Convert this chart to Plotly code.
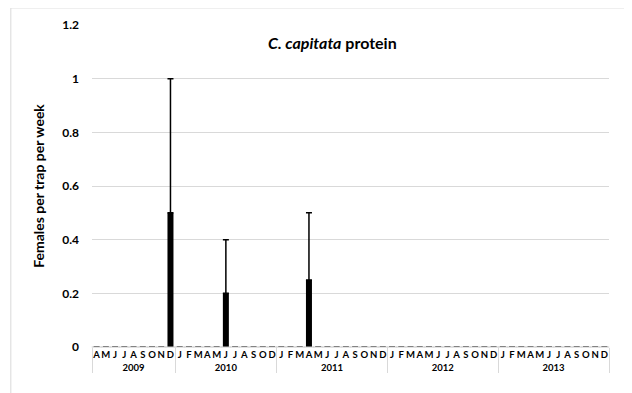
import plotly.graph_objects as go

# month letters per year (2010 has no November sample)
months_2009 = ["A", "M", "J", "J", "A", "S", "O", "N", "D"]
months_2010 = ["J", "F", "M", "A", "M", "J", "J", "A", "S", "O", "D"]
months_2011 = ["J", "F", "M", "A", "M", "J", "J", "A", "S", "O", "N", "D"]
months_2012 = ["J", "F", "M", "A", "M", "J", "J", "A", "S", "O", "N", "D"]
months_2013 = ["J", "F", "M", "A", "M", "J", "J", "A", "S", "O", "N", "D"]

# females per trap per week
values_2009 = [0, 0, 0, 0, 0, 0, 0, 0, 0.5]
values_2010 = [0, 0, 0, 0, 0, 0.2, 0, 0, 0, 0, 0]
values_2011 = [0, 0, 0, 0.25, 0, 0, 0, 0, 0, 0, 0, 0]
values_2012 = [0] * 12
values_2013 = [0] * 12

# upper error bars
errors_2009 = [0, 0, 0, 0, 0, 0, 0, 0, 0.5]
errors_2010 = [0, 0, 0, 0, 0, 0.2, 0, 0, 0, 0, 0]
errors_2011 = [0, 0, 0, 0.25, 0, 0, 0, 0, 0, 0, 0, 0]
errors_2012 = [0] * 12
errors_2013 = [0] * 12

years = ["2009", "2010", "2011", "2012", "2013"]
months = [months_2009, months_2010, months_2011, months_2012, months_2013]
values = [values_2009, values_2010, values_2011, values_2012, values_2013]
errors = [errors_2009, errors_2010, errors_2011, errors_2012, errors_2013]

x_year, x_month, y, err = [], [], [], []
i = 0
for yr, ms, vs, es in zip(years, months, values, errors):
    for m, v, e in zip(ms, vs, es):
        # every month letter gets its own invisible suffix so plotly keeps
        # them as separate categories in the original order
        x_year.append(yr)
        x_month.append(m + "\u200b" * i)
        y.append(v)
        err.append(e)
        i += 1

font = "Lato, 'Open Sans', sans-serif"

fig = go.Figure()
fig.add_trace(go.Bar(
    x=[x_year, x_month], y=y,
    marker=dict(color="black", line=dict(width=0)),
    error_y=dict(type="data", array=err, arrayminus=[0] * len(err),
                 symmetric=False, color="black", thickness=1.5, width=3),
    showlegend=False,
))
# dashed-looking category baseline
fig.add_trace(go.Scatter(
    x=[x_year, x_month], y=[0] * len(y), mode="markers",
    marker=dict(symbol="line-ew-open", size=7, color="#c8c8c8",
                line=dict(color="#c8c8c8", width=1)),
    showlegend=False, hoverinfo="skip", cliponaxis=False,
))

fig.update_layout(
    width=632, height=393,
    margin=dict(l=84, r=31, t=17, b=54),
    paper_bgcolor="white", plot_bgcolor="white",
    bargap=0.35,
    font=dict(family=font, color="black"),
    title=dict(text="<i>C. capitata</i> protein", xref="paper", x=0.465,
               xanchor="center", y=0.91, yanchor="middle",
               font=dict(family=font, size=16, weight="bold", color="black")),
    shapes=[dict(type="rect", xref="paper", yref="paper",
                 x0=-0.157, x1=1.035, y0=-0.2, y1=1.053,
                 line=dict(color="#d9d9d9", width=1), layer="below")],
)
fig.update_xaxes(
    type="multicategory", showgrid=False, zeroline=False, showline=False,
    range=[-0.5, len(y) - 0.5],
    ticks="", showdividers=True, dividercolor="#d9d9d9", dividerwidth=1,
    tickangle=0, tickmode="linear", dtick=1, automargin=False,
    tickfont=dict(family=font, size=9.5, weight="bold", color="black"),
)
fig.update_yaxes(
    range=[0, 1.2], dtick=0.2, showgrid=True, gridcolor="#d9d9d9",
    gridwidth=1, zeroline=False, showline=False, ticks="",
    ticklabelstandoff=12, automargin=False,
    tickfont=dict(family=font, size=12, weight="bold", color="black"),
    title=dict(text="Females per trap per week", standoff=14,
               font=dict(family=font, size=14, weight="bold", color="black")),
)

fig.write_html("out.html")
